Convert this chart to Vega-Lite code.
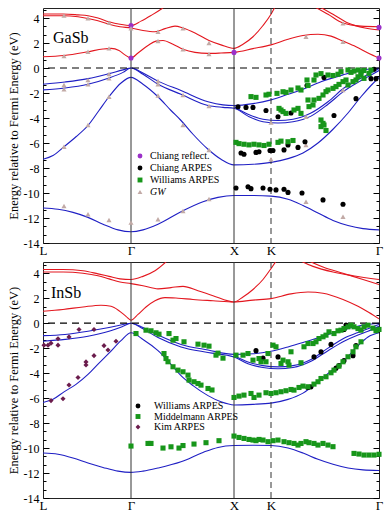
{
  "$schema": "https://vega.github.io/schema/vega-lite/v6.json",
  "padding": {"left": 6, "top": 3, "right": 0, "bottom": 0},
  "spacing": 0,
  "config": {
    "font": "Liberation Serif",
    "view": {"stroke": "#222", "strokeWidth": 1},
    "axis": {"grid": false}
  },
  "resolve": {"scale": {"color": "independent", "shape": "independent"}},
  "vconcat": [
    {
      "width": 336,
      "height": 235,
      "resolve": {"axis": {"y": "independent"}},
      "layer": [
        {
          "data": {"values": [
            {"b":"c1","t":"c","k":0,"E":0.9},{"b":"c1","t":"c","k":21,"E":1.0},{"b":"c1","t":"c","k":45,"E":1.3},{"b":"c1","t":"c","k":60,"E":1.52},{"b":"c1","t":"c","k":68,"E":1.57},{"b":"c1","t":"c","k":76,"E":1.4},{"b":"c1","t":"c","k":82,"E":1.05},{"b":"c1","t":"c","k":88,"E":0.8},{"b":"c1","t":"c","k":95,"E":1.2},{"b":"c1","t":"c","k":105,"E":1.8},{"b":"c1","t":"c","k":113,"E":2.15},{"b":"c1","t":"c","k":120,"E":2.2},{"b":"c1","t":"c","k":130,"E":1.9},{"b":"c1","t":"c","k":140,"E":1.5},{"b":"c1","t":"c","k":152,"E":1.25},{"b":"c1","t":"c","k":165,"E":1.17},{"b":"c1","t":"c","k":178,"E":1.2},{"b":"c1","t":"c","k":191,"E":1.25},{"b":"c1","t":"c","k":210,"E":1.55},{"b":"c1","t":"c","k":228,"E":1.85},{"b":"c1","t":"c","k":245,"E":2.3},{"b":"c1","t":"c","k":260,"E":2.6},{"b":"c1","t":"c","k":275,"E":2.7},{"b":"c1","t":"c","k":288,"E":2.55},{"b":"c1","t":"c","k":300,"E":2.15},{"b":"c1","t":"c","k":313,"E":1.7},{"b":"c1","t":"c","k":325,"E":1.2},{"b":"c1","t":"c","k":336,"E":0.8},
            {"b":"c2","t":"c","k":0,"E":4.18},{"b":"c2","t":"c","k":20,"E":4.18},{"b":"c2","t":"c","k":35,"E":4.1},{"b":"c2","t":"c","k":45,"E":3.96},{"b":"c2","t":"c","k":55,"E":3.78},{"b":"c2","t":"c","k":66,"E":3.5},{"b":"c2","t":"c","k":77,"E":3.3},{"b":"c2","t":"c","k":88,"E":3.2},{"b":"c2","t":"c","k":100,"E":3.0},{"b":"c2","t":"c","k":112,"E":2.9},{"b":"c2","t":"c","k":122,"E":3.15},{"b":"c2","t":"c","k":132,"E":3.35},{"b":"c2","t":"c","k":140,"E":3.2},{"b":"c2","t":"c","k":152,"E":2.8},{"b":"c2","t":"c","k":166,"E":2.2},{"b":"c2","t":"c","k":178,"E":1.85},{"b":"c2","t":"c","k":191,"E":1.57},{"b":"c2","t":"c","k":200,"E":1.9},{"b":"c2","t":"c","k":210,"E":2.5},{"b":"c2","t":"c","k":220,"E":3.4},{"b":"c2","t":"c","k":228,"E":4.3},{"b":"c2","t":"c","k":234,"E":5.2},
            {"b":"c3","t":"c","k":0,"E":4.32},{"b":"c3","t":"c","k":20,"E":4.32},{"b":"c3","t":"c","k":35,"E":4.25},{"b":"c3","t":"c","k":45,"E":4.18},{"b":"c3","t":"c","k":55,"E":4.0},{"b":"c3","t":"c","k":66,"E":3.7},{"b":"c3","t":"c","k":77,"E":3.5},{"b":"c3","t":"c","k":88,"E":3.4},{"b":"c3","t":"c","k":98,"E":3.75},{"b":"c3","t":"c","k":108,"E":4.2},{"b":"c3","t":"c","k":118,"E":4.7},{"b":"c3","t":"c","k":126,"E":5.2},
            {"b":"c4","t":"c","k":258,"E":5.2},{"b":"c4","t":"c","k":271,"E":4.9},{"b":"c4","t":"c","k":285,"E":4.3},{"b":"c4","t":"c","k":300,"E":3.6},{"b":"c4","t":"c","k":318,"E":3.35},{"b":"c4","t":"c","k":336,"E":3.3},
            {"b":"c5","t":"c","k":263,"E":5.2},{"b":"c5","t":"c","k":276,"E":4.9},{"b":"c5","t":"c","k":290,"E":4.3},{"b":"c5","t":"c","k":305,"E":3.6},{"b":"c5","t":"c","k":322,"E":3.2},{"b":"c5","t":"c","k":336,"E":3.05},
            {"b":"v1","t":"v","k":0,"E":-1.3},{"b":"v1","t":"v","k":22,"E":-1.12},{"b":"v1","t":"v","k":45,"E":-0.85},{"b":"v1","t":"v","k":66,"E":-0.45},{"b":"v1","t":"v","k":80,"E":-0.15},{"b":"v1","t":"v","k":88,"E":0},{"b":"v1","t":"v","k":100,"E":-0.4},{"b":"v1","t":"v","k":115,"E":-1.05},{"b":"v1","t":"v","k":138,"E":-1.8},{"b":"v1","t":"v","k":165,"E":-2.7},{"b":"v1","t":"v","k":180,"E":-2.95},{"b":"v1","t":"v","k":191,"E":-3.0},{"b":"v1","t":"v","k":210,"E":-2.85},{"b":"v1","t":"v","k":228,"E":-2.55},{"b":"v1","t":"v","k":245,"E":-2.1},{"b":"v1","t":"v","k":260,"E":-1.7},{"b":"v1","t":"v","k":278,"E":-1.1},{"b":"v1","t":"v","k":300,"E":-0.55},{"b":"v1","t":"v","k":320,"E":-0.15},{"b":"v1","t":"v","k":336,"E":0},
            {"b":"v2","t":"v","k":0,"E":-1.75},{"b":"v2","t":"v","k":22,"E":-1.6},{"b":"v2","t":"v","k":45,"E":-1.3},{"b":"v2","t":"v","k":66,"E":-0.8},{"b":"v2","t":"v","k":80,"E":-0.35},{"b":"v2","t":"v","k":88,"E":0},{"b":"v2","t":"v","k":100,"E":-0.5},{"b":"v2","t":"v","k":115,"E":-1.3},{"b":"v2","t":"v","k":138,"E":-2.1},{"b":"v2","t":"v","k":165,"E":-3.0},{"b":"v2","t":"v","k":180,"E":-3.15},{"b":"v2","t":"v","k":191,"E":-3.22},{"b":"v2","t":"v","k":205,"E":-3.85},{"b":"v2","t":"v","k":220,"E":-4.3},{"b":"v2","t":"v","k":235,"E":-4.4},{"b":"v2","t":"v","k":250,"E":-4.3},{"b":"v2","t":"v","k":268,"E":-3.85},{"b":"v2","t":"v","k":285,"E":-2.9},{"b":"v2","t":"v","k":301,"E":-1.85},{"b":"v2","t":"v","k":315,"E":-1.15},{"b":"v2","t":"v","k":325,"E":-0.7},{"b":"v2","t":"v","k":336,"E":-0.2},
            {"b":"v2b","t":"v","k":191,"E":-3.1},{"b":"v2b","t":"v","k":205,"E":-3.7},{"b":"v2b","t":"v","k":220,"E":-4.1},{"b":"v2b","t":"v","k":235,"E":-4.2},{"b":"v2b","t":"v","k":250,"E":-4.1},{"b":"v2b","t":"v","k":268,"E":-3.6},{"b":"v2b","t":"v","k":285,"E":-2.7},{"b":"v2b","t":"v","k":301,"E":-1.6},{"b":"v2b","t":"v","k":315,"E":-0.95},{"b":"v2b","t":"v","k":325,"E":-0.5},{"b":"v2b","t":"v","k":336,"E":-0.05},
            {"b":"v3","t":"v","k":0,"E":-7.3},{"b":"v3","t":"v","k":10,"E":-7.0},{"b":"v3","t":"v","k":21,"E":-6.3},{"b":"v3","t":"v","k":33,"E":-5.5},{"b":"v3","t":"v","k":45,"E":-4.6},{"b":"v3","t":"v","k":56,"E":-3.4},{"b":"v3","t":"v","k":66,"E":-2.3},{"b":"v3","t":"v","k":78,"E":-1.2},{"b":"v3","t":"v","k":88,"E":-0.75},{"b":"v3","t":"v","k":100,"E":-1.3},{"b":"v3","t":"v","k":115,"E":-2.3},{"b":"v3","t":"v","k":128,"E":-3.4},{"b":"v3","t":"v","k":138,"E":-4.2},{"b":"v3","t":"v","k":150,"E":-5.3},{"b":"v3","t":"v","k":165,"E":-6.5},{"b":"v3","t":"v","k":178,"E":-7.3},{"b":"v3","t":"v","k":191,"E":-7.75},{"b":"v3","t":"v","k":210,"E":-7.7},{"b":"v3","t":"v","k":228,"E":-7.55},{"b":"v3","t":"v","k":245,"E":-7.25},{"b":"v3","t":"v","k":260,"E":-6.8},{"b":"v3","t":"v","k":275,"E":-6.0},{"b":"v3","t":"v","k":290,"E":-4.9},{"b":"v3","t":"v","k":305,"E":-3.6},{"b":"v3","t":"v","k":318,"E":-2.3},{"b":"v3","t":"v","k":328,"E":-1.4},{"b":"v3","t":"v","k":336,"E":-0.75},
            {"b":"v4","t":"v","k":0,"E":-11.2},{"b":"v4","t":"v","k":15,"E":-11.3},{"b":"v4","t":"v","k":30,"E":-11.55},{"b":"v4","t":"v","k":45,"E":-11.95},{"b":"v4","t":"v","k":60,"E":-12.5},{"b":"v4","t":"v","k":75,"E":-12.95},{"b":"v4","t":"v","k":88,"E":-13.1},{"b":"v4","t":"v","k":100,"E":-12.95},{"b":"v4","t":"v","k":115,"E":-12.5},{"b":"v4","t":"v","k":138,"E":-11.5},{"b":"v4","t":"v","k":160,"E":-10.7},{"b":"v4","t":"v","k":175,"E":-10.35},{"b":"v4","t":"v","k":191,"E":-10.2},{"b":"v4","t":"v","k":210,"E":-10.2},{"b":"v4","t":"v","k":228,"E":-10.25},{"b":"v4","t":"v","k":245,"E":-10.5},{"b":"v4","t":"v","k":260,"E":-11.0},{"b":"v4","t":"v","k":275,"E":-11.6},{"b":"v4","t":"v","k":290,"E":-12.2},{"b":"v4","t":"v","k":305,"E":-12.6},{"b":"v4","t":"v","k":320,"E":-12.85},{"b":"v4","t":"v","k":336,"E":-12.95}
          ]},
          "mark": {"type": "line", "clip": true, "strokeWidth": 1.1, "interpolate": "monotone"},
          "encoding": {
            "x": {"field": "k", "type": "quantitative", "scale": {"domain": [0, 336], "nice": false, "zero": false},
                  "axis": {"values": [0, 88, 191, 228, 336], "labelExpr": "datum.value == 0 ? 'L' : datum.value == 88 ? 'Γ' : datum.value == 191 ? 'X' : datum.value == 228 ? 'K' : 'Γ'", "ticks": false, "domain": false, "title": null, "labelFontSize": 13, "labelPadding": 1, "labelFlush": false, "labelOverlap": false, "labelColor": "black", "labelFont": "Liberation Serif"}},
            "y": {"field": "E", "type": "quantitative", "scale": {"domain": [-14, 4.8], "nice": false, "zero": false},
                  "axis": {"values": [-14,-13.333,-12.667,-12,-11.333,-10.667,-10,-9.333,-8.667,-8,-7.333,-6.667,-6,-5.333,-4.667,-4,-3.333,-2.667,-2,-1.333,-0.667,0,0.667,1.333,2,2.667,3.333,4,4.667],
                           "labelExpr": "abs(datum.value % 2) < 0.01 ? '' + datum.value : ''",
                           "tickSize": {"condition": {"test": "abs(datum.value % 2) < 0.01", "value": -6}, "value": -3},
                           "tickColor": "black", "domain": false, "labelOverlap": false, "labelFontSize": 12, "labelColor": "black", "labelPadding": 10,
                           "title": "Energy relative to Fermi Energy (eV)", "titleFontSize": 12.5, "titleFontWeight": "normal", "titleColor": "black", "titlePadding": 3}},
            "detail": {"field": "b"},
            "color": {"condition": {"test": "datum.t === 'c'", "value": "#e3171f"}, "value": "#1f1fc4"}
          }
        },
        {
          "data": {"values": [{"k": 88}, {"k": 191}]},
          "mark": {"type": "rule", "color": "#333", "strokeWidth": 1},
          "encoding": {"x": {"field": "k", "type": "quantitative"}}
        },
        {
          "data": {"values": [{"k": 228}]},
          "mark": {"type": "rule", "color": "#333", "strokeWidth": 1, "strokeDash": [6, 4]},
          "encoding": {"x": {"field": "k", "type": "quantitative"}}
        },
        {
          "data": {"values": [{}]},
          "mark": {"type": "rule", "color": "black", "strokeWidth": 1.2, "strokeDash": [7, 5]},
          "encoding": {"y": {"datum": 0, "type": "quantitative",
            "axis": {"orient": "right", "values": [-14,-13.333,-12.667,-12,-11.333,-10.667,-10,-9.333,-8.667,-8,-7.333,-6.667,-6,-5.333,-4.667,-4,-3.333,-2.667,-2,-1.333,-0.667,0,0.667,1.333,2,2.667,3.333,4,4.667],
                     "labels": false, "domain": false, "title": null, "tickColor": "black",
                     "tickSize": {"condition": {"test": "abs(datum.value % 2) < 0.01", "value": -6}, "value": -3}}}}
        },
        {
          "data": {"values": [
            {"k":88,"E":0.8,"s":"Chiang reflect."},{"k":88,"E":3.4,"s":"Chiang reflect."},{"k":191,"E":1.25,"s":"Chiang reflect."},{"k":336,"E":0.8,"s":"Chiang reflect."},{"k":336,"E":3.25,"s":"Chiang reflect."},
            {"k":21,"E":4.19,"s":"GW"},{"k":21,"E":0.96,"s":"GW"},{"k":21,"E":-1.36,"s":"GW"},{"k":21,"E":-1.71,"s":"GW"},{"k":21,"E":-6.3,"s":"GW"},{"k":21,"E":-11.04,"s":"GW"},
            {"k":45,"E":3.97,"s":"GW"},{"k":45,"E":1.3,"s":"GW"},{"k":45,"E":-0.96,"s":"GW"},{"k":45,"E":-1.31,"s":"GW"},{"k":45,"E":-4.56,"s":"GW"},{"k":45,"E":-11.7,"s":"GW"},
            {"k":66,"E":3.63,"s":"GW"},{"k":66,"E":1.57,"s":"GW"},{"k":66,"E":-0.48,"s":"GW"},{"k":66,"E":-0.83,"s":"GW"},{"k":66,"E":-2.3,"s":"GW"},{"k":66,"E":-12.16,"s":"GW"},
            {"k":88,"E":3.18,"s":"GW"},{"k":88,"E":-12.37,"s":"GW"},
            {"k":115,"E":2.9,"s":"GW"},{"k":115,"E":2.16,"s":"GW"},{"k":115,"E":-1.04,"s":"GW"},{"k":115,"E":-1.3,"s":"GW"},{"k":115,"E":-2.2,"s":"GW"},{"k":115,"E":-12.1,"s":"GW"},
            {"k":140,"E":3.17,"s":"GW"},{"k":140,"E":1.49,"s":"GW"},{"k":140,"E":-2.16,"s":"GW"},{"k":140,"E":-4.56,"s":"GW"},{"k":140,"E":-11.44,"s":"GW"},
            {"k":166,"E":2.0,"s":"GW"},{"k":166,"E":1.12,"s":"GW"},{"k":166,"E":-3.04,"s":"GW"},{"k":166,"E":-6.56,"s":"GW"},{"k":166,"E":-10.48,"s":"GW"},
            {"k":228,"E":-4.37,"s":"GW"},{"k":228,"E":-7.3,"s":"GW"},
            {"k":263,"E":2.5,"s":"GW"},{"k":263,"E":-3.9,"s":"GW"},{"k":263,"E":-6.16,"s":"GW"},{"k":263,"E":-10.7,"s":"GW"},
            {"k":300,"E":3.57,"s":"GW"},{"k":300,"E":2.1,"s":"GW"},{"k":300,"E":-1.76,"s":"GW"},{"k":300,"E":-11.9,"s":"GW"},
            {"k":195,"E":-3.1,"s":"Chiang ARPES"},{"k":203,"E":-3.15,"s":"Chiang ARPES"},{"k":210,"E":-3.15,"s":"Chiang ARPES"},{"k":223,"E":-3.4,"s":"Chiang ARPES"},{"k":235,"E":-3.9,"s":"Chiang ARPES"},{"k":248,"E":-3.6,"s":"Chiang ARPES"},{"k":264,"E":-1.4,"s":"Chiang ARPES"},{"k":281,"E":-0.75,"s":"Chiang ARPES"},{"k":291,"E":-3.8,"s":"Chiang ARPES"},{"k":313,"E":-2.45,"s":"Chiang ARPES"},{"k":328,"E":-0.85,"s":"Chiang ARPES"},{"k":333,"E":-0.85,"s":"Chiang ARPES"},{"k":331,"E":-0.1,"s":"Chiang ARPES"},
            {"k":198,"E":-6.8,"s":"Chiang ARPES"},{"k":201,"E":-6.9,"s":"Chiang ARPES"},{"k":213,"E":-6.75,"s":"Chiang ARPES"},{"k":216,"E":-6.7,"s":"Chiang ARPES"},{"k":227,"E":-6.6,"s":"Chiang ARPES"},{"k":230,"E":-6.6,"s":"Chiang ARPES"},{"k":241,"E":-6.55,"s":"Chiang ARPES"},{"k":245,"E":-6.15,"s":"Chiang ARPES"},{"k":255,"E":-6.35,"s":"Chiang ARPES"},{"k":262,"E":-5.9,"s":"Chiang ARPES"},
            {"k":193,"E":-9.6,"s":"Chiang ARPES"},{"k":205,"E":-9.5,"s":"Chiang ARPES"},{"k":208,"E":-9.65,"s":"Chiang ARPES"},{"k":220,"E":-9.6,"s":"Chiang ARPES"},{"k":227,"E":-9.7,"s":"Chiang ARPES"},{"k":233,"E":-9.75,"s":"Chiang ARPES"},{"k":241,"E":-9.7,"s":"Chiang ARPES"},{"k":245,"E":-9.95,"s":"Chiang ARPES"},{"k":259,"E":-10.0,"s":"Chiang ARPES"},{"k":280,"E":-10.55,"s":"Chiang ARPES"},{"k":300,"E":-10.9,"s":"Chiang ARPES"},
            {"k":208,"E":-2.29,"s":"Williams ARPES"},{"k":213,"E":-2.35,"s":"Williams ARPES"},{"k":223,"E":-2.16,"s":"Williams ARPES"},{"k":226,"E":-2.1,"s":"Williams ARPES"},{"k":234,"E":-2.03,"s":"Williams ARPES"},{"k":240,"E":-1.9,"s":"Williams ARPES"},{"k":243,"E":-1.95,"s":"Williams ARPES"},{"k":248,"E":-1.76,"s":"Williams ARPES"},{"k":255,"E":-1.6,"s":"Williams ARPES"},{"k":258,"E":-1.76,"s":"Williams ARPES"},{"k":265,"E":-1.4,"s":"Williams ARPES"},{"k":264,"E":-0.96,"s":"Williams ARPES"},{"k":271,"E":-0.96,"s":"Williams ARPES"},{"k":273,"E":-0.56,"s":"Williams ARPES"},{"k":278,"E":-0.45,"s":"Williams ARPES"},{"k":285,"E":-0.56,"s":"Williams ARPES"},{"k":290,"E":-0.6,"s":"Williams ARPES"},{"k":295,"E":-0.5,"s":"Williams ARPES"},{"k":298,"E":-0.29,"s":"Williams ARPES"},{"k":305,"E":-0.16,"s":"Williams ARPES"},{"k":308,"E":-0.35,"s":"Williams ARPES"},{"k":311,"E":-0.25,"s":"Williams ARPES"},{"k":315,"E":-0.16,"s":"Williams ARPES"},{"k":318,"E":-0.3,"s":"Williams ARPES"},{"k":321,"E":-0.2,"s":"Williams ARPES"},{"k":328,"E":-0.16,"s":"Williams ARPES"},
            {"k":236,"E":-3.23,"s":"Williams ARPES"},{"k":238,"E":-3.36,"s":"Williams ARPES"},{"k":240,"E":-3.49,"s":"Williams ARPES"},{"k":243,"E":-3.63,"s":"Williams ARPES"},{"k":251,"E":-3.36,"s":"Williams ARPES"},{"k":255,"E":-3.23,"s":"Williams ARPES"},{"k":258,"E":-3.63,"s":"Williams ARPES"},{"k":265,"E":-2.56,"s":"Williams ARPES"},{"k":266,"E":-3.09,"s":"Williams ARPES"},{"k":270,"E":-2.96,"s":"Williams ARPES"},{"k":271,"E":-2.56,"s":"Williams ARPES"},{"k":276,"E":-2.43,"s":"Williams ARPES"},{"k":280,"E":-2.16,"s":"Williams ARPES"},{"k":283,"E":-1.89,"s":"Williams ARPES"},{"k":285,"E":-1.76,"s":"Williams ARPES"},{"k":290,"E":-1.63,"s":"Williams ARPES"},{"k":293,"E":-1.49,"s":"Williams ARPES"},{"k":296,"E":-1.31,"s":"Williams ARPES"},{"k":300,"E":-1.09,"s":"Williams ARPES"},{"k":303,"E":-0.96,"s":"Williams ARPES"},{"k":305,"E":-1.36,"s":"Williams ARPES"},{"k":310,"E":-1.09,"s":"Williams ARPES"},{"k":313,"E":-0.96,"s":"Williams ARPES"},{"k":315,"E":-0.7,"s":"Williams ARPES"},{"k":318,"E":-0.56,"s":"Williams ARPES"},{"k":321,"E":-0.83,"s":"Williams ARPES"},{"k":326,"E":-0.43,"s":"Williams ARPES"},{"k":278,"E":-4.16,"s":"Williams ARPES"},{"k":280,"E":-4.43,"s":"Williams ARPES"},{"k":278,"E":-4.69,"s":"Williams ARPES"},{"k":281,"E":-4.56,"s":"Williams ARPES"},{"k":283,"E":-5.0,"s":"Williams ARPES"},
            {"k":193,"E":-5.95,"s":"Williams ARPES"},{"k":196,"E":-6.05,"s":"Williams ARPES"},{"k":201,"E":-6.1,"s":"Williams ARPES"},{"k":206,"E":-6.15,"s":"Williams ARPES"},{"k":211,"E":-6.1,"s":"Williams ARPES"},{"k":216,"E":-6.15,"s":"Williams ARPES"},{"k":221,"E":-6.2,"s":"Williams ARPES"},{"k":226,"E":-6.1,"s":"Williams ARPES"},{"k":235,"E":-5.95,"s":"Williams ARPES"},{"k":238,"E":-5.85,"s":"Williams ARPES"},{"k":245,"E":-5.9,"s":"Williams ARPES"},{"k":250,"E":-5.8,"s":"Williams ARPES"}
          ]},
          "mark": {"type": "point", "filled": true, "opacity": 1, "size": 26, "strokeWidth": 0},
          "encoding": {
            "x": {"field": "k", "type": "quantitative"},
            "y": {"field": "E", "type": "quantitative", "axis": null},
            "color": {"field": "s", "type": "nominal",
              "scale": {"domain": ["Chiang reflect.", "Chiang ARPES", "Williams ARPES", "GW"], "range": ["#9b30c8", "#000000", "#17961a", "#c2aaa6"]},
              "legend": {"orient": "none", "legendX": 92, "legendY": 143, "title": null, "labelFont": "Liberation Serif", "labelFontSize": 10, "labelColor": "black", "labelOffset": 5, "rowPadding": 2, "padding": 0, "symbolSize": 24,
                         "labelFontStyle": {"expr": "datum.label == 'GW' ? 'italic' : 'normal'"}}},
            "shape": {"field": "s", "type": "nominal",
              "scale": {"domain": ["Chiang reflect.", "Chiang ARPES", "Williams ARPES", "GW"], "range": ["circle", "circle", "square", "triangle-up"]}}
          }
        },
        {
          "data": {"values": [{"label": "GaSb"}]},
          "mark": {"type": "text", "align": "left", "baseline": "middle", "fontSize": 16, "font": "Liberation Serif", "color": "black"},
          "encoding": {
            "x": {"datum": 10, "type": "quantitative"},
            "y": {"datum": 2.4, "type": "quantitative", "axis": null},
            "text": {"field": "label"}
          }
        }
      ]
    },
    {
      "width": 336,
      "height": 236,
      "resolve": {"axis": {"y": "independent"}},
      "layer": [
        {
          "data": {"values": [
            {"b":"c1","t":"c","k":0,"E":0.96},{"b":"c1","t":"c","k":20,"E":1.1},{"b":"c1","t":"c","k":40,"E":1.3},{"b":"c1","t":"c","k":58,"E":1.44},{"b":"c1","t":"c","k":68,"E":1.35},{"b":"c1","t":"c","k":76,"E":1.0},{"b":"c1","t":"c","k":83,"E":0.55},{"b":"c1","t":"c","k":88,"E":0.24},{"b":"c1","t":"c","k":95,"E":0.7},{"b":"c1","t":"c","k":103,"E":1.3},{"b":"c1","t":"c","k":112,"E":1.8},{"b":"c1","t":"c","k":122,"E":2.05},{"b":"c1","t":"c","k":135,"E":2.0},{"b":"c1","t":"c","k":150,"E":1.9},{"b":"c1","t":"c","k":170,"E":1.8},{"b":"c1","t":"c","k":191,"E":1.7},{"b":"c1","t":"c","k":210,"E":1.85},{"b":"c1","t":"c","k":228,"E":1.97},{"b":"c1","t":"c","k":248,"E":2.35},{"b":"c1","t":"c","k":265,"E":2.5},{"b":"c1","t":"c","k":280,"E":2.4},{"b":"c1","t":"c","k":300,"E":1.9},{"b":"c1","t":"c","k":315,"E":1.35},{"b":"c1","t":"c","k":326,"E":0.85},{"b":"c1","t":"c","k":336,"E":0.35},
            {"b":"c2","t":"c","k":0,"E":4.1},{"b":"c2","t":"c","k":20,"E":4.1},{"b":"c2","t":"c","k":40,"E":4.0},{"b":"c2","t":"c","k":55,"E":3.8},{"b":"c2","t":"c","k":66,"E":3.55},{"b":"c2","t":"c","k":77,"E":3.3},{"b":"c2","t":"c","k":88,"E":3.17},{"b":"c2","t":"c","k":100,"E":3.0},{"b":"c2","t":"c","k":115,"E":2.75},{"b":"c2","t":"c","k":128,"E":2.85},{"b":"c2","t":"c","k":140,"E":2.95},{"b":"c2","t":"c","k":155,"E":2.6},{"b":"c2","t":"c","k":170,"E":2.2},{"b":"c2","t":"c","k":191,"E":1.7},{"b":"c2","t":"c","k":200,"E":2.1},{"b":"c2","t":"c","k":210,"E":2.7},{"b":"c2","t":"c","k":220,"E":3.5},{"b":"c2","t":"c","k":228,"E":4.37},{"b":"c2","t":"c","k":235,"E":5.2},
            {"b":"c3","t":"c","k":0,"E":4.3},{"b":"c3","t":"c","k":20,"E":4.3},{"b":"c3","t":"c","k":40,"E":4.2},{"b":"c3","t":"c","k":55,"E":3.95},{"b":"c3","t":"c","k":66,"E":3.75},{"b":"c3","t":"c","k":77,"E":3.55},{"b":"c3","t":"c","k":88,"E":3.5},{"b":"c3","t":"c","k":100,"E":3.75},{"b":"c3","t":"c","k":112,"E":4.2},{"b":"c3","t":"c","k":127,"E":5.2},
            {"b":"c4","t":"c","k":252,"E":5.2},{"b":"c4","t":"c","k":270,"E":4.55},{"b":"c4","t":"c","k":290,"E":4.1},{"b":"c4","t":"c","k":310,"E":3.8},{"b":"c4","t":"c","k":336,"E":3.5},
            {"b":"c5","t":"c","k":260,"E":5.2},{"b":"c5","t":"c","k":280,"E":4.5},{"b":"c5","t":"c","k":300,"E":4.0},{"b":"c5","t":"c","k":320,"E":3.5},{"b":"c5","t":"c","k":336,"E":3.1},
            {"b":"v1","t":"v","k":0,"E":-1.0},{"b":"v1","t":"v","k":22,"E":-0.9},{"b":"v1","t":"v","k":45,"E":-0.65},{"b":"v1","t":"v","k":66,"E":-0.35},{"b":"v1","t":"v","k":80,"E":-0.1},{"b":"v1","t":"v","k":88,"E":0},{"b":"v1","t":"v","k":100,"E":-0.35},{"b":"v1","t":"v","k":115,"E":-0.95},{"b":"v1","t":"v","k":138,"E":-1.7},{"b":"v1","t":"v","k":165,"E":-2.15},{"b":"v1","t":"v","k":191,"E":-2.5},{"b":"v1","t":"v","k":210,"E":-2.45},{"b":"v1","t":"v","k":228,"E":-2.25},{"b":"v1","t":"v","k":245,"E":-1.9},{"b":"v1","t":"v","k":260,"E":-1.55},{"b":"v1","t":"v","k":278,"E":-1.1},{"b":"v1","t":"v","k":300,"E":-0.55},{"b":"v1","t":"v","k":320,"E":-0.15},{"b":"v1","t":"v","k":336,"E":0},
            {"b":"v2","t":"v","k":0,"E":-1.45},{"b":"v2","t":"v","k":22,"E":-1.3},{"b":"v2","t":"v","k":45,"E":-1.05},{"b":"v2","t":"v","k":66,"E":-0.65},{"b":"v2","t":"v","k":80,"E":-0.25},{"b":"v2","t":"v","k":88,"E":0},{"b":"v2","t":"v","k":100,"E":-0.45},{"b":"v2","t":"v","k":115,"E":-1.15},{"b":"v2","t":"v","k":138,"E":-1.9},{"b":"v2","t":"v","k":165,"E":-2.35},{"b":"v2","t":"v","k":191,"E":-2.7},{"b":"v2","t":"v","k":205,"E":-3.25},{"b":"v2","t":"v","k":220,"E":-3.55},{"b":"v2","t":"v","k":235,"E":-3.65},{"b":"v2","t":"v","k":250,"E":-3.55},{"b":"v2","t":"v","k":268,"E":-3.05},{"b":"v2","t":"v","k":285,"E":-2.2},{"b":"v2","t":"v","k":301,"E":-1.45},{"b":"v2","t":"v","k":315,"E":-0.95},{"b":"v2","t":"v","k":325,"E":-0.65},{"b":"v2","t":"v","k":336,"E":-0.25},
            {"b":"v2b","t":"v","k":191,"E":-2.6},{"b":"v2b","t":"v","k":205,"E":-3.1},{"b":"v2b","t":"v","k":220,"E":-3.4},{"b":"v2b","t":"v","k":235,"E":-3.5},{"b":"v2b","t":"v","k":250,"E":-3.4},{"b":"v2b","t":"v","k":268,"E":-2.9},{"b":"v2b","t":"v","k":285,"E":-2.0},{"b":"v2b","t":"v","k":301,"E":-1.2},{"b":"v2b","t":"v","k":315,"E":-0.75},{"b":"v2b","t":"v","k":325,"E":-0.45},{"b":"v2b","t":"v","k":336,"E":-0.1},
            {"b":"v3","t":"v","k":0,"E":-6.35},{"b":"v3","t":"v","k":10,"E":-6.1},{"b":"v3","t":"v","k":21,"E":-5.5},{"b":"v3","t":"v","k":33,"E":-4.9},{"b":"v3","t":"v","k":45,"E":-4.1},{"b":"v3","t":"v","k":56,"E":-3.2},{"b":"v3","t":"v","k":66,"E":-2.4},{"b":"v3","t":"v","k":78,"E":-1.4},{"b":"v3","t":"v","k":88,"E":-0.77},{"b":"v3","t":"v","k":100,"E":-1.3},{"b":"v3","t":"v","k":115,"E":-2.2},{"b":"v3","t":"v","k":128,"E":-3.3},{"b":"v3","t":"v","k":138,"E":-4.2},{"b":"v3","t":"v","k":150,"E":-5.0},{"b":"v3","t":"v","k":165,"E":-5.8},{"b":"v3","t":"v","k":178,"E":-6.3},{"b":"v3","t":"v","k":191,"E":-6.55},{"b":"v3","t":"v","k":210,"E":-6.5},{"b":"v3","t":"v","k":228,"E":-6.4},{"b":"v3","t":"v","k":245,"E":-6.1},{"b":"v3","t":"v","k":260,"E":-5.6},{"b":"v3","t":"v","k":275,"E":-4.7},{"b":"v3","t":"v","k":290,"E":-3.7},{"b":"v3","t":"v","k":301,"E":-3.0},{"b":"v3","t":"v","k":315,"E":-1.8},{"b":"v3","t":"v","k":325,"E":-1.1},{"b":"v3","t":"v","k":336,"E":-0.77},
            {"b":"v4","t":"v","k":0,"E":-10.4},{"b":"v4","t":"v","k":15,"E":-10.5},{"b":"v4","t":"v","k":30,"E":-10.8},{"b":"v4","t":"v","k":45,"E":-11.2},{"b":"v4","t":"v","k":60,"E":-11.55},{"b":"v4","t":"v","k":75,"E":-11.85},{"b":"v4","t":"v","k":88,"E":-11.95},{"b":"v4","t":"v","k":100,"E":-11.85},{"b":"v4","t":"v","k":115,"E":-11.6},{"b":"v4","t":"v","k":138,"E":-11.1},{"b":"v4","t":"v","k":160,"E":-10.35},{"b":"v4","t":"v","k":175,"E":-9.95},{"b":"v4","t":"v","k":191,"E":-9.8},{"b":"v4","t":"v","k":210,"E":-9.78},{"b":"v4","t":"v","k":228,"E":-9.8},{"b":"v4","t":"v","k":245,"E":-10.0},{"b":"v4","t":"v","k":260,"E":-10.4},{"b":"v4","t":"v","k":275,"E":-10.9},{"b":"v4","t":"v","k":290,"E":-11.3},{"b":"v4","t":"v","k":305,"E":-11.6},{"b":"v4","t":"v","k":320,"E":-11.75},{"b":"v4","t":"v","k":336,"E":-11.8}
          ]},
          "mark": {"type": "line", "clip": true, "strokeWidth": 1.1, "interpolate": "monotone"},
          "encoding": {
            "x": {"field": "k", "type": "quantitative", "scale": {"domain": [0, 336], "nice": false, "zero": false},
                  "axis": {"values": [0, 88, 191, 228, 336], "labelExpr": "datum.value == 0 ? 'L' : datum.value == 88 ? 'Γ' : datum.value == 191 ? 'X' : datum.value == 228 ? 'K' : 'Γ'", "ticks": false, "domain": false, "title": null, "labelFontSize": 13, "labelPadding": 1, "labelFlush": false, "labelOverlap": false, "labelColor": "black", "labelFont": "Liberation Serif"}},
            "y": {"field": "E", "type": "quantitative", "scale": {"domain": [-14, 4.9], "nice": false, "zero": false},
                  "axis": {"values": [-14,-13.333,-12.667,-12,-11.333,-10.667,-10,-9.333,-8.667,-8,-7.333,-6.667,-6,-5.333,-4.667,-4,-3.333,-2.667,-2,-1.333,-0.667,0,0.667,1.333,2,2.667,3.333,4,4.667],
                           "labelExpr": "abs(datum.value % 2) < 0.01 ? '' + datum.value : ''",
                           "tickSize": {"condition": {"test": "abs(datum.value % 2) < 0.01", "value": -6}, "value": -3},
                           "tickColor": "black", "domain": false, "labelOverlap": false, "labelFontSize": 12, "labelColor": "black", "labelPadding": 10,
                           "title": "Energy relative to Fermi Energy (eV)", "titleFontSize": 12.5, "titleFontWeight": "normal", "titleColor": "black", "titlePadding": 3}},
            "detail": {"field": "b"},
            "color": {"condition": {"test": "datum.t === 'c'", "value": "#e3171f"}, "value": "#1f1fc4"}
          }
        },
        {
          "data": {"values": [{"k": 88}, {"k": 191}]},
          "mark": {"type": "rule", "color": "#333", "strokeWidth": 1},
          "encoding": {"x": {"field": "k", "type": "quantitative"}}
        },
        {
          "data": {"values": [{"k": 228}]},
          "mark": {"type": "rule", "color": "#333", "strokeWidth": 1, "strokeDash": [6, 4]},
          "encoding": {"x": {"field": "k", "type": "quantitative"}}
        },
        {
          "data": {"values": [{}]},
          "mark": {"type": "rule", "color": "black", "strokeWidth": 1.2, "strokeDash": [7, 5]},
          "encoding": {"y": {"datum": 0, "type": "quantitative",
            "axis": {"orient": "right", "values": [-14,-13.333,-12.667,-12,-11.333,-10.667,-10,-9.333,-8.667,-8,-7.333,-6.667,-6,-5.333,-4.667,-4,-3.333,-2.667,-2,-1.333,-0.667,0,0.667,1.333,2,2.667,3.333,4,4.667],
                     "labels": false, "domain": false, "title": null, "tickColor": "black",
                     "tickSize": {"condition": {"test": "abs(datum.value % 2) < 0.01", "value": -6}, "value": -3}}}}
        },
        {
          "data": {"values": [
            {"k":213,"E":-2.2,"s":"Williams ARPES"},{"k":220,"E":-2.8,"s":"Williams ARPES"},{"k":235,"E":-2.7,"s":"Williams ARPES"},{"k":271,"E":-2.7,"s":"Williams ARPES"},{"k":278,"E":-2.3,"s":"Williams ARPES"},{"k":288,"E":-1.7,"s":"Williams ARPES"},{"k":301,"E":-0.5,"s":"Williams ARPES"},{"k":303,"E":-0.15,"s":"Williams ARPES"},{"k":301,"E":-3.0,"s":"Williams ARPES"},{"k":313,"E":-1.8,"s":"Williams ARPES"},{"k":265,"E":-5.15,"s":"Williams ARPES"},{"k":268,"E":-5.1,"s":"Williams ARPES"},{"k":293,"E":-3.6,"s":"Williams ARPES"},{"k":296,"E":-3.4,"s":"Williams ARPES"},{"k":310,"E":-2.6,"s":"Williams ARPES"},
            {"k":93,"E":-0.83,"s":"Middelmann ARPES"},{"k":103,"E":-0.56,"s":"Middelmann ARPES"},{"k":108,"E":-0.61,"s":"Middelmann ARPES"},{"k":113,"E":-0.77,"s":"Middelmann ARPES"},{"k":116,"E":-0.88,"s":"Middelmann ARPES"},{"k":126,"E":-0.83,"s":"Middelmann ARPES"},{"k":130,"E":-1.36,"s":"Middelmann ARPES"},{"k":133,"E":-1.23,"s":"Middelmann ARPES"},{"k":141,"E":-1.49,"s":"Middelmann ARPES"},{"k":155,"E":-1.68,"s":"Middelmann ARPES"},{"k":161,"E":-1.76,"s":"Middelmann ARPES"},{"k":166,"E":-1.84,"s":"Middelmann ARPES"},{"k":173,"E":-2.56,"s":"Middelmann ARPES"},{"k":180,"E":-2.8,"s":"Middelmann ARPES"},{"k":175,"E":-2.4,"s":"Middelmann ARPES"},
            {"k":121,"E":-2.43,"s":"Middelmann ARPES"},{"k":123,"E":-2.83,"s":"Middelmann ARPES"},{"k":125,"E":-3.09,"s":"Middelmann ARPES"},{"k":130,"E":-3.49,"s":"Middelmann ARPES"},{"k":135,"E":-3.76,"s":"Middelmann ARPES"},{"k":140,"E":-3.89,"s":"Middelmann ARPES"},{"k":145,"E":-4.16,"s":"Middelmann ARPES"},{"k":146,"E":-4.56,"s":"Middelmann ARPES"},{"k":151,"E":-4.69,"s":"Middelmann ARPES"},{"k":155,"E":-4.83,"s":"Middelmann ARPES"},{"k":158,"E":-4.96,"s":"Middelmann ARPES"},{"k":165,"E":-5.23,"s":"Middelmann ARPES"},{"k":169,"E":-5.35,"s":"Middelmann ARPES"},
            {"k":193,"E":-2.56,"s":"Middelmann ARPES"},{"k":200,"E":-2.56,"s":"Middelmann ARPES"},{"k":205,"E":-2.43,"s":"Middelmann ARPES"},{"k":210,"E":-2.96,"s":"Middelmann ARPES"},{"k":216,"E":-2.83,"s":"Middelmann ARPES"},{"k":218,"E":-3.09,"s":"Middelmann ARPES"},{"k":223,"E":-3.09,"s":"Middelmann ARPES"},{"k":225,"E":-2.43,"s":"Middelmann ARPES"},{"k":230,"E":-1.76,"s":"Middelmann ARPES"},{"k":233,"E":-1.89,"s":"Middelmann ARPES"},{"k":238,"E":-3.23,"s":"Middelmann ARPES"},{"k":240,"E":-2.96,"s":"Middelmann ARPES"},{"k":245,"E":-3.09,"s":"Middelmann ARPES"},{"k":246,"E":-3.36,"s":"Middelmann ARPES"},{"k":248,"E":-2.29,"s":"Middelmann ARPES"},{"k":258,"E":-3.17,"s":"Middelmann ARPES"},{"k":261,"E":-1.89,"s":"Middelmann ARPES"},{"k":265,"E":-1.63,"s":"Middelmann ARPES"},{"k":270,"E":-1.63,"s":"Middelmann ARPES"},{"k":273,"E":-1.49,"s":"Middelmann ARPES"},{"k":276,"E":-1.23,"s":"Middelmann ARPES"},{"k":280,"E":-1.09,"s":"Middelmann ARPES"},{"k":283,"E":-0.96,"s":"Middelmann ARPES"},{"k":286,"E":-0.69,"s":"Middelmann ARPES"},{"k":291,"E":-0.83,"s":"Middelmann ARPES"},{"k":295,"E":-0.61,"s":"Middelmann ARPES"},{"k":298,"E":-0.56,"s":"Middelmann ARPES"},{"k":301,"E":-0.43,"s":"Middelmann ARPES"},{"k":305,"E":-0.29,"s":"Middelmann ARPES"},{"k":308,"E":-0.16,"s":"Middelmann ARPES"},{"k":311,"E":-0.29,"s":"Middelmann ARPES"},{"k":315,"E":-0.43,"s":"Middelmann ARPES"},{"k":318,"E":-0.56,"s":"Middelmann ARPES"},{"k":321,"E":-0.29,"s":"Middelmann ARPES"},{"k":325,"E":-0.16,"s":"Middelmann ARPES"},{"k":330,"E":-0.4,"s":"Middelmann ARPES"},{"k":333,"E":-0.6,"s":"Middelmann ARPES"},{"k":336,"E":-0.5,"s":"Middelmann ARPES"},
            {"k":191,"E":-5.95,"s":"Middelmann ARPES"},{"k":196,"E":-5.84,"s":"Middelmann ARPES"},{"k":201,"E":-5.76,"s":"Middelmann ARPES"},{"k":208,"E":-5.63,"s":"Middelmann ARPES"},{"k":211,"E":-5.95,"s":"Middelmann ARPES"},{"k":216,"E":-5.76,"s":"Middelmann ARPES"},{"k":223,"E":-5.57,"s":"Middelmann ARPES"},{"k":228,"E":-5.63,"s":"Middelmann ARPES"},{"k":233,"E":-5.57,"s":"Middelmann ARPES"},{"k":238,"E":-5.49,"s":"Middelmann ARPES"},{"k":243,"E":-5.41,"s":"Middelmann ARPES"},{"k":248,"E":-5.31,"s":"Middelmann ARPES"},{"k":251,"E":-5.36,"s":"Middelmann ARPES"},{"k":256,"E":-5.15,"s":"Middelmann ARPES"},{"k":260,"E":-5.04,"s":"Middelmann ARPES"},{"k":265,"E":-5.09,"s":"Middelmann ARPES"},{"k":271,"E":-4.88,"s":"Middelmann ARPES"},{"k":275,"E":-4.69,"s":"Middelmann ARPES"},{"k":278,"E":-4.43,"s":"Middelmann ARPES"},{"k":283,"E":-4.29,"s":"Middelmann ARPES"},{"k":288,"E":-3.97,"s":"Middelmann ARPES"},{"k":291,"E":-3.76,"s":"Middelmann ARPES"},{"k":296,"E":-3.44,"s":"Middelmann ARPES"},{"k":300,"E":-3.09,"s":"Middelmann ARPES"},{"k":305,"E":-2.69,"s":"Middelmann ARPES"},{"k":310,"E":-2.29,"s":"Middelmann ARPES"},{"k":313,"E":-1.89,"s":"Middelmann ARPES"},{"k":318,"E":-1.49,"s":"Middelmann ARPES"},
            {"k":88,"E":-9.84,"s":"Middelmann ARPES"},{"k":105,"E":-9.63,"s":"Middelmann ARPES"},{"k":108,"E":-9.63,"s":"Middelmann ARPES"},{"k":120,"E":-10.0,"s":"Middelmann ARPES"},{"k":128,"E":-9.9,"s":"Middelmann ARPES"},{"k":136,"E":-10.0,"s":"Middelmann ARPES"},{"k":140,"E":-9.8,"s":"Middelmann ARPES"},{"k":151,"E":-9.68,"s":"Middelmann ARPES"},{"k":163,"E":-9.57,"s":"Middelmann ARPES"},{"k":176,"E":-9.41,"s":"Middelmann ARPES"},{"k":191,"E":-9.04,"s":"Middelmann ARPES"},{"k":196,"E":-9.15,"s":"Middelmann ARPES"},{"k":201,"E":-9.23,"s":"Middelmann ARPES"},{"k":206,"E":-9.31,"s":"Middelmann ARPES"},{"k":210,"E":-9.36,"s":"Middelmann ARPES"},{"k":213,"E":-9.41,"s":"Middelmann ARPES"},{"k":216,"E":-9.31,"s":"Middelmann ARPES"},{"k":220,"E":-9.36,"s":"Middelmann ARPES"},{"k":225,"E":-9.49,"s":"Middelmann ARPES"},{"k":230,"E":-9.41,"s":"Middelmann ARPES"},{"k":235,"E":-9.36,"s":"Middelmann ARPES"},{"k":241,"E":-9.49,"s":"Middelmann ARPES"},{"k":246,"E":-9.57,"s":"Middelmann ARPES"},{"k":251,"E":-9.63,"s":"Middelmann ARPES"},{"k":255,"E":-9.76,"s":"Middelmann ARPES"},{"k":258,"E":-9.63,"s":"Middelmann ARPES"},{"k":263,"E":-9.49,"s":"Middelmann ARPES"},{"k":266,"E":-9.57,"s":"Middelmann ARPES"},{"k":271,"E":-9.63,"s":"Middelmann ARPES"},{"k":275,"E":-9.76,"s":"Middelmann ARPES"},{"k":280,"E":-9.63,"s":"Middelmann ARPES"},{"k":285,"E":-9.76,"s":"Middelmann ARPES"},{"k":290,"E":-9.89,"s":"Middelmann ARPES"},{"k":311,"E":-10.43,"s":"Middelmann ARPES"},{"k":316,"E":-10.48,"s":"Middelmann ARPES"},{"k":321,"E":-10.56,"s":"Middelmann ARPES"},{"k":326,"E":-10.56,"s":"Middelmann ARPES"},{"k":331,"E":-10.56,"s":"Middelmann ARPES"},{"k":336,"E":-10.5,"s":"Middelmann ARPES"},
            {"k":1,"E":-1.76,"s":"Kim ARPES"},{"k":5,"E":-1.76,"s":"Kim ARPES"},{"k":8,"E":-1.6,"s":"Kim ARPES"},{"k":15,"E":-1.25,"s":"Kim ARPES"},{"k":15,"E":-1.76,"s":"Kim ARPES"},{"k":26,"E":-1.1,"s":"Kim ARPES"},{"k":36,"E":-0.5,"s":"Kim ARPES"},{"k":51,"E":-0.5,"s":"Kim ARPES"},{"k":8,"E":-6.2,"s":"Kim ARPES"},{"k":20,"E":-6.05,"s":"Kim ARPES"},{"k":26,"E":-4.95,"s":"Kim ARPES"},{"k":35,"E":-4.35,"s":"Kim ARPES"},{"k":43,"E":-3.1,"s":"Kim ARPES"},{"k":43,"E":-3.35,"s":"Kim ARPES"},{"k":51,"E":-2.6,"s":"Kim ARPES"},{"k":61,"E":-1.8,"s":"Kim ARPES"},{"k":65,"E":-2.15,"s":"Kim ARPES"},{"k":73,"E":-1.45,"s":"Kim ARPES"}
          ]},
          "mark": {"type": "point", "filled": true, "opacity": 1, "size": 26, "strokeWidth": 0},
          "encoding": {
            "x": {"field": "k", "type": "quantitative"},
            "y": {"field": "E", "type": "quantitative", "axis": null},
            "color": {"field": "s", "type": "nominal",
              "scale": {"domain": ["Williams ARPES", "Middelmann ARPES", "Kim ARPES"], "range": ["#000000", "#17961a", "#6b1c4c"]},
              "legend": {"orient": "none", "legendX": 90, "legendY": 139, "title": null, "labelFont": "Liberation Serif", "labelFontSize": 10, "labelColor": "black", "labelOffset": 11, "rowPadding": 0.5, "padding": 0, "symbolSize": 24}},
            "shape": {"field": "s", "type": "nominal",
              "scale": {"domain": ["Williams ARPES", "Middelmann ARPES", "Kim ARPES"], "range": ["circle", "square", "diamond"]}}
          }
        },
        {
          "data": {"values": [{"label": "InSb"}]},
          "mark": {"type": "text", "align": "left", "baseline": "middle", "fontSize": 16, "font": "Liberation Serif", "color": "black"},
          "encoding": {
            "x": {"datum": 8, "type": "quantitative"},
            "y": {"datum": 2.4, "type": "quantitative", "axis": null},
            "text": {"field": "label"}
          }
        }
      ]
    }
  ]
}
